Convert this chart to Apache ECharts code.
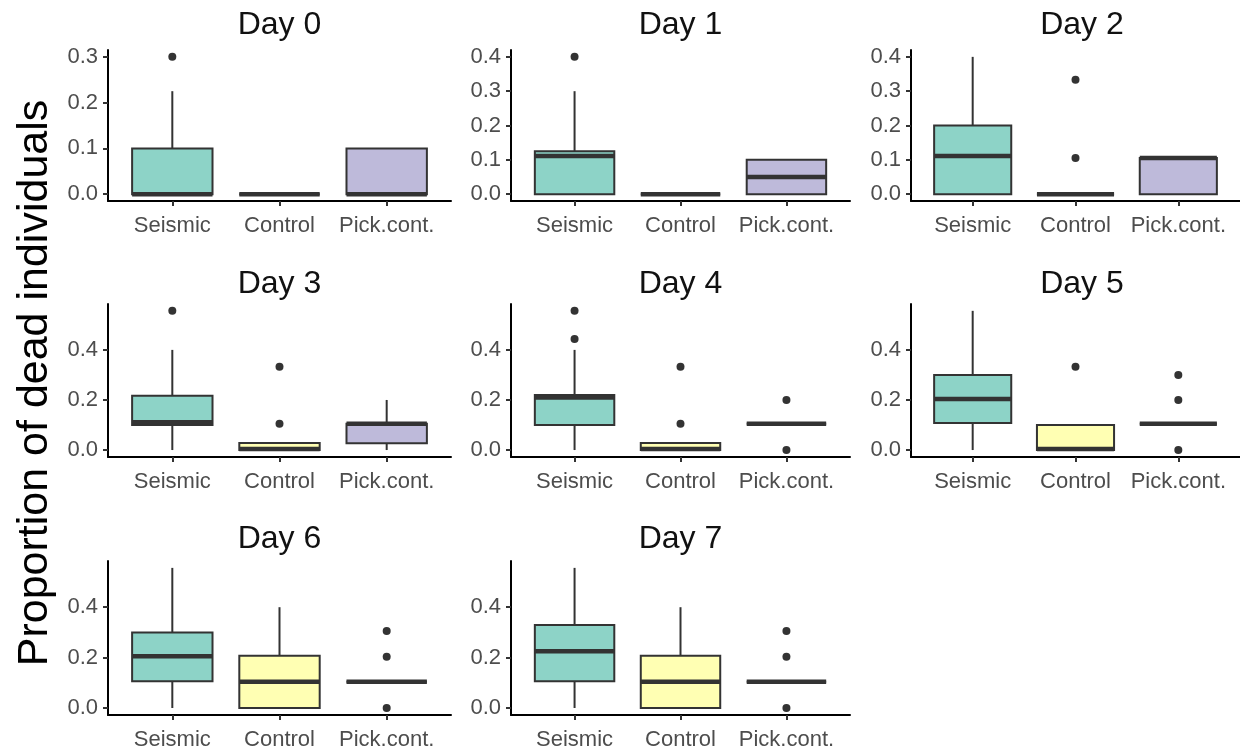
<!DOCTYPE html>
<html>
<head>
<meta charset="utf-8">
<script src="https://cdn.jsdelivr.net/npm/echarts@6/dist/echarts.min.js"></script>
<style>
html,body{margin:0;padding:0;background:#fff;}
#chart{width:1240px;height:753px;}
</style>
</head>
<body>
<div id="chart"></div>
<script>
// ---------- data ----------
const categories = ['Seismic', 'Control', 'Pick.cont.'];
const dayLabels = ['Day 0', 'Day 1', 'Day 2', 'Day 3', 'Day 4', 'Day 5', 'Day 6', 'Day 7'];
const fillColors = ['#8DD3C7', '#FFFFB3', '#BEBADA'];
const yAxisTitle = 'Proportion of dead individuals';

// box summaries per category: [lower whisker, Q1, median, Q3, upper whisker]
const day0Boxes = [[0, 0, 0, 0.1, 0.225], [0, 0, 0, 0, 0], [0, 0, 0, 0.1, 0.1]];
const day1Boxes = [[0, 0, 0.111, 0.125, 0.3], [0, 0, 0, 0, 0], [0, 0, 0.05, 0.1, 0.1]];
const day2Boxes = [[0, 0, 0.111, 0.2, 0.4], [0, 0, 0, 0, 0], [0, 0, 0.105, 0.105, 0.105]];
const day3Boxes = [[0, 0.1, 0.111, 0.217, 0.4], [0, 0, 0.004, 0.028, 0.028], [0, 0.027, 0.105, 0.105, 0.2]];
const day4Boxes = [[0, 0.1, 0.21, 0.22, 0.4], [0, 0, 0.004, 0.028, 0.028], [0.105, 0.105, 0.105, 0.105, 0.105]];
const day5Boxes = [[0, 0.108, 0.204, 0.3, 0.556], [0, 0, 0.004, 0.1, 0.1], [0.105, 0.105, 0.105, 0.105, 0.105]];
const day6Boxes = [[0, 0.106, 0.205, 0.3, 0.556], [0, 0, 0.104, 0.207, 0.4], [0.104, 0.104, 0.104, 0.104, 0.104]];
const day7Boxes = [[0, 0.106, 0.225, 0.329, 0.556], [0, 0, 0.104, 0.207, 0.4], [0.104, 0.104, 0.104, 0.104, 0.104]];

// outliers: [category index, value]
const day0Outliers = [[0, 0.3]];
const day1Outliers = [[0, 0.4]];
const day2Outliers = [[1, 0.333], [1, 0.105]];
const day3Outliers = [[0, 0.556], [1, 0.333], [1, 0.105]];
const day4Outliers = [[0, 0.444], [0, 0.556], [1, 0.333], [1, 0.105], [2, 0.2], [2, 0]];
const day5Outliers = [[1, 0.333], [2, 0.3], [2, 0.2], [2, 0]];
const day6Outliers = [[2, 0.306], [2, 0.203], [2, 0]];
const day7Outliers = [[2, 0.306], [2, 0.203], [2, 0]];

// y axis limits (data range with 5% expansion) and tick labels
const yLimits = [[-0.015, 0.315], [-0.02, 0.42], [-0.02, 0.42],
  [-0.0278, 0.5833], [-0.0278, 0.5833], [-0.0278, 0.5833], [-0.0278, 0.5833], [-0.0278, 0.5833]];
const yTicksDay0 = [0, 0.1, 0.2, 0.3];
const yTicksDay12 = [0, 0.1, 0.2, 0.3, 0.4];
const yTicksLater = [0, 0.2, 0.4];

const allBoxes = [day0Boxes, day1Boxes, day2Boxes, day3Boxes, day4Boxes, day5Boxes, day6Boxes, day7Boxes];
const allOutliers = [day0Outliers, day1Outliers, day2Outliers, day3Outliers, day4Outliers, day5Outliers, day6Outliers, day7Outliers];
const allTicks = [yTicksDay0, yTicksDay12, yTicksDay12, yTicksLater, yTicksLater, yTicksLater, yTicksLater, yTicksLater];

// ---------- layout ----------
const colLeft = [108, 511, 911];
const colWidth = [343, 339, 342];
const rowTop = [50, 304, 561];
const rowHeight = [151, 153, 154];
const titleTop = [9, 268, 523];

const FONT = "'Liberation Sans', Arial, sans-serif";
const INK = '#333333';

const grids = [], xAxes = [], yAxes = [], series = [], titles = [];

allBoxes.forEach((boxes, i) => {
  const r = Math.floor(i / 3), c = i % 3;
  grids.push({left: colLeft[c], top: rowTop[r], width: colWidth[c], height: rowHeight[r], containLabel: false});
  titles.push({
    text: dayLabels[i], left: colLeft[c] + colWidth[c] / 2, top: titleTop[r], textAlign: 'center', padding: 0,
    textStyle: {fontFamily: FONT, fontSize: 32, fontWeight: 'normal', color: '#111'}
  });
  xAxes.push({
    type: 'value', gridIndex: i, min: -0.6, max: 2.6,
    axisLine: {show: true, onZero: false, lineStyle: {color: '#000', width: 2}},
    axisTick: {show: true, customValues: [0, 1, 2], length: 5, lineStyle: {color: '#333', width: 2}},
    axisLabel: {show: true, customValues: [0, 1, 2], margin: 14, formatter: v => categories[Math.round(v)] || '',
      fontFamily: FONT, fontSize: 22, color: '#4D4D4D'},
    splitLine: {show: false}
  });
  yAxes.push({
    type: 'value', gridIndex: i, min: yLimits[i][0], max: yLimits[i][1],
    axisLine: {show: true, onZero: false, lineStyle: {color: '#000', width: 2}},
    axisTick: {show: true, customValues: allTicks[i], length: 5, lineStyle: {color: '#333', width: 2}},
    axisLabel: {show: true, customValues: allTicks[i], margin: 10, formatter: v => v.toFixed(1),
      fontFamily: FONT, fontSize: 22, color: '#4D4D4D'},
    splitLine: {show: false}
  });
  series.push({
    type: 'custom', xAxisIndex: i, yAxisIndex: i,
    data: boxes.map((b, k) => [k].concat(b)),
    encode: {x: 0, y: [1, 2, 3, 4, 5]},
    renderItem: function (params, api) {
      const k = api.value(0);
      const lo = api.coord([k, api.value(1)]);
      const q1 = api.coord([k, api.value(2)]);
      const md = api.coord([k, api.value(3)]);
      const q3 = api.coord([k, api.value(4)]);
      const hi = api.coord([k, api.value(5)]);
      const w = api.size([0.75, 0])[0];
      const cx = lo[0];
      return {
        type: 'group', children: [
          {type: 'line', shape: {x1: cx, y1: hi[1], x2: cx, y2: q3[1]}, style: {stroke: INK, lineWidth: 2}},
          {type: 'line', shape: {x1: cx, y1: q1[1], x2: cx, y2: lo[1]}, style: {stroke: INK, lineWidth: 2}},
          {type: 'rect', shape: {x: cx - w / 2, y: q3[1], width: w, height: q1[1] - q3[1]},
            style: {fill: fillColors[k], stroke: INK, lineWidth: 2}},
          {type: 'line', shape: {x1: cx - w / 2, y1: md[1], x2: cx + w / 2, y2: md[1]},
            style: {stroke: INK, lineWidth: 4.5}}
        ]
      };
    },
    z: 2
  });
  series.push({
    type: 'scatter', xAxisIndex: i, yAxisIndex: i,
    data: allOutliers[i], symbol: 'circle', symbolSize: 8,
    itemStyle: {color: INK, opacity: 1}, z: 3
  });
});

const chart = echarts.init(document.getElementById('chart'), null, {renderer: 'canvas'});
chart.setOption({
  animation: false,
  backgroundColor: '#fff',
  title: titles,
  grid: grids,
  xAxis: xAxes,
  yAxis: yAxes,
  series: series,
  graphic: [{
    type: 'text', x: 35, y: 383, rotation: Math.PI / 2,
    style: {text: yAxisTitle, fontFamily: FONT, fontSize: 43, fill: '#000', align: 'center', verticalAlign: 'middle'}
  }]
});
</script>
</body>
</html>
